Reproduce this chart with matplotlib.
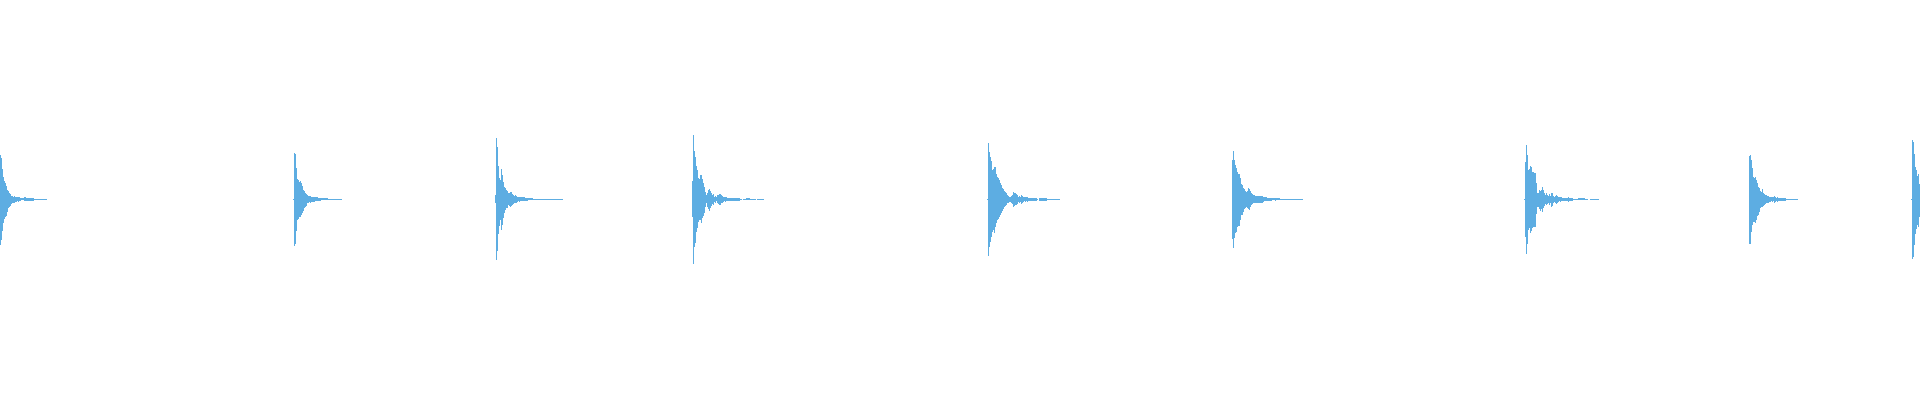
import matplotlib
matplotlib.use("Agg")
import matplotlib.pyplot as plt
import numpy as np

# Waveform bursts: onset pixel column, upper envelope per column, lower envelope
# for the first columns (the remaining tail is symmetric with the upper one).
burst_onsets = [0, 293, 495, 692, 987, 1232, 1524, 1749, 1911]

burst_upper = [
    [44.5, 41.5, 30, 22.5, 18, 16.5, 13, 9.3, 8, 6.5, 5.5, 3.5, 3, 2.5, 3.3, 2.5, 2.5, 2, 2.7, 2,
     1.3, 1, 1, 1, 2, 2, 1.5, *[1.3] * 7, *[0.7] * 13],
    [0.7, 46.7, 45.5, 31, 20.5, 19, 17.5, 18.7, 16.5, 13, 9.5, 8.5, 6.5, 5, 4, 3.3, 3, 3.3, 2.7, 2.7,
     2.7, 2.7, 2, 2, 2, 1.7, 1.7, 1.7, *[1.2] * 7, *[0.7] * 14],
    [4, 61, 52.7, 33.7, 21, 19, 30, 24, 17.7, 12.7, 11, 9, 8.7, 6, 6.7, 7.7, 7, 5.3, 4.3, 3.3,
     4, 3.3, 2.7, 2, 2.7, *[2] * 5, *[1.7] * 3, *[1.2] * 5, *[0.7] * 30],
    [18, 64, 48, 42.7, 33.7, 29, 21, 20, 24, 24, 20, 16, 12.7, 7.7, 4.3, 6.7, 9.3, 10.3, 8.7, 6,
     4.3, 5.3, 2.7, 3.3, 2, 4, 4.3, 5.3, 5.3, 4, 3.3, 2.7, 2, 2.7, 2, *[1.7] * 3, *[1.3] * 10,
     0.7, 0.7, 0, 0.7, 0.7, 0.7, *[1.2] * 4, *[0.7] * 6, 0, *[0.7] * 7],
    [0.7, 56.7, 47, 42.7, 38.7, 29.3, 30, 32.7, 32.7, 25.3, 22, 21, 19.3, 16, 14.3, 11, 10, 8.3, 7, 6,
     4.3, 3.3, 2.7, 2.7, 3.3, 4.3, 7.3, 6.7, 6, 5.3, 4.3, 2.7, 3.3, 2.7, 4.3, 3.3, 2.7, 2, 2.7, 2,
     2.7, *[1.7] * 4, *[1.3] * 5, 0.7, 0, *[1.3] * 8, *[0.7] * 13],
    [39.3, 48.3, 39.3, 34.3, 31.7, 27, 25.3, 25.3, 21, 15.3, 14.3, 11, 10, 8.3, 7.7, 8.7, 11, 10, 8.7, 6.7,
     5.3, 4, 4, 3.3, *[3.3] * 6, 3.7, 2.7, 2, 2, 2, *[1.3] * 4, 1.7, 1, 1, 1, 1.7, *[1.2] * 4,
     *[0.7] * 23],
    [0.7, 37.7, 54.3, 44.3, 29.3, 30, 33.3, 32.7, 27.7, 27.7, 26.7, 26, 16, 6, 6.7, 9.3, 8.3, 9.3, 12, 9.3,
     6.7, 4.3, 6, 4.3, 3.3, 5.3, 3.3, 6.7, 6, 3.7, 2.7, 3.3, 4.3, 3.7, 2.7, 2, 2.7, 2, *[1.7] * 6, 2.7,
     *[1.3] * 4, *[0.7] * 5, *[1.2] * 7, *[0.7] * 3, 0, 0, *[0.7] * 9],
    [43.3, 44.7, 39.3, 31.7, 22.7, 21, 22.7, 19.3, 16, 12.7, 11.7, 8.7, 7.7, 10.3, 6.7, 5.3, 4.3, 4, 3.3, 3.3,
     2.7, 2.7, 2, 2.7, 2, 3.3, 2.7, 1.7, 2.7, *[1.3] * 4, *[1.7] * 4, *[0.7] * 12],
    [0.7, 59, 57.3, 45.7, 32.3, 29, 23, 25, 15.7],
]

burst_lower_head = [
    [45.5, 41, 31.5, 23.5, 20, 17.5, 16.5, 13, 9, 8, 6.7, 4.7, 4, 3.3],
    [0.7, 46.7, 44.7, 32, 21, 20, 17.5, 18, 16, 14, 11.3, 9, 7.3, 6.7],
    [4, 61, 52, 35, 26.7, 21, 30.7, 25.7, 19, 14, 11, 9, 8.7, 6, 6.7, 7.7, 6.7],
    [18, 64.7, 48, 44, 33, 29, 23, 20.7, 21, 24, 19, 17, 14, 8, 4, 8, 10, 11.3, 9, 6.7, 4.7, 5.3,
     2.7, 3.3, 2, 4, 4.7],
    [0.7, 56.7, 47.3, 42.3, 38, 32.3, 30.7, 33.3, 27.3, 23.3, 20.7, 20, 17.3, 15.7, 14, 11.3, 10, 8,
     6.7, 5.7, 4],
    [39.7, 48.3, 39, 34, 32.3, 27.3, 26.7, 26.7, 20.7, 15.7, 15.7, 12.3, 10, 9, 8, 8.7, 10, 10.7, 8, 6,
     4.7],
    [0.7, 37.3, 54.7, 44.7, 30.7, 29, 34, 31.3, 29, 27.3, 27.3, 27.3, 14.7, 7.3, 8, 10, 11.7, 10, 12.3, 9,
     6.7, 4.3, 6, 4.3, 3.3, 5.7, 3.3, 7.3, 6.7],
    [44.7, 44.7, 32.3, 25.7, 22.3, 22.3, 24, 20.7, 16.7, 15.7, 12.3, 9, 8, 8, 6.7],
    [0.7, 59.3, 57.7, 46, 35, 29.3, 26, 27.7, 17.7],
]

WAVE_COLOR = "#5DADE2"

fig = plt.figure(figsize=(19.2, 4), dpi=100)
ax = fig.add_axes([0, 0, 1, 1])
ax.set_xlim(0, 1920)
ax.set_ylim(-200.7, 199.3)
ax.axis("off")

for onset, upper, lower_head in zip(burst_onsets, burst_upper, burst_lower_head):
    up = np.array(upper, dtype=float)
    lo = up.copy()
    lo[:len(lower_head)] = lower_head
    cols = onset + np.arange(len(up))
    mask = (up + lo) > 0
    ax.bar(cols[mask], (up + lo)[mask], bottom=-lo[mask], width=1.0, align="edge",
           color=WAVE_COLOR, linewidth=0, antialiased=False)

fig.savefig("out.png", dpi=100, facecolor="white")
